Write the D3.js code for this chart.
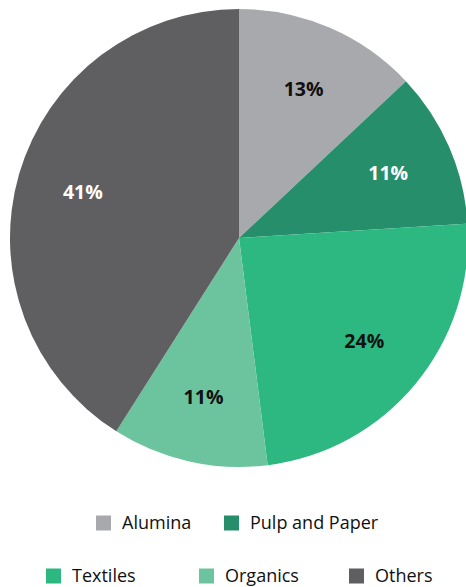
<!doctype html>
<html>
<head>
<script src="https://d3js.org/d3.v7.min.js"></script>
<style>
  body { margin: 0; background: #fff; }
  svg { display: block; font-family: "Open Sans", "Noto Sans", sans-serif; }
  .pct { font-size: 19.5px; font-weight: bold; }
  .legtext { font-size: 18px; fill: #111; }
</style>
</head>
<body>
<script>
// chart data
var categories = ["Alumina", "Pulp and Paper", "Textiles", "Organics", "Others"];
var shares = [13, 11, 24, 11, 41];
var colors = ["#a8a9ad", "#268e6a", "#2db882", "#6cc49e", "#5f5e60"];
var labelColors = ["#111", "#fff", "#111", "#111", "#fff"];

var width = 466, height = 587;
var cx = 239, cy = 238, radius = 229;

var svg = d3.select("body").append("svg")
  .attr("width", width).attr("height", height);

var pie = d3.pie().sort(null).value(function(d) { return d; });
var arcs = pie(shares);

var arc = d3.arc().innerRadius(0).outerRadius(radius);
var labelArc = d3.arc().innerRadius(radius * 0.71).outerRadius(radius * 0.71);

var g = svg.append("g").attr("transform", "translate(" + cx + "," + cy + ")");

g.selectAll("path").data(arcs).enter().append("path")
  .attr("d", arc)
  .attr("fill", function(d, i) { return colors[i]; });

g.selectAll("text").data(arcs).enter().append("text")
  .attr("class", "pct")
  .attr("transform", function(d) { return "translate(" + labelArc.centroid(d) + ")"; })
  .attr("text-anchor", "middle")
  .attr("dy", "0.35em")
  .attr("fill", function(d, i) { return labelColors[i]; })
  .text(function(d) { return d.data + "%"; });

// legend, two rows like the original
var legendRows = [[0, 1], [2, 3, 4]];
var rowY = [523, 576];
var rowX = [[96, 224], [46, 199, 349]];
var sw = 15;

legendRows.forEach(function(row, r) {
  var lg = svg.selectAll(".leg" + r).data(row).enter().append("g")
    .attr("class", "leg" + r)
    .attr("transform", function(d, j) { return "translate(" + rowX[r][j] + "," + rowY[r] + ")"; });
  lg.append("rect")
    .attr("x", 0).attr("y", -sw / 2)
    .attr("width", sw).attr("height", sw)
    .attr("fill", function(d) { return colors[d]; });
  lg.append("text")
    .attr("class", "legtext")
    .attr("x", sw + 11)
    .attr("dy", "0.35em")
    .text(function(d) { return categories[d]; });
});
</script>
</body>
</html>
